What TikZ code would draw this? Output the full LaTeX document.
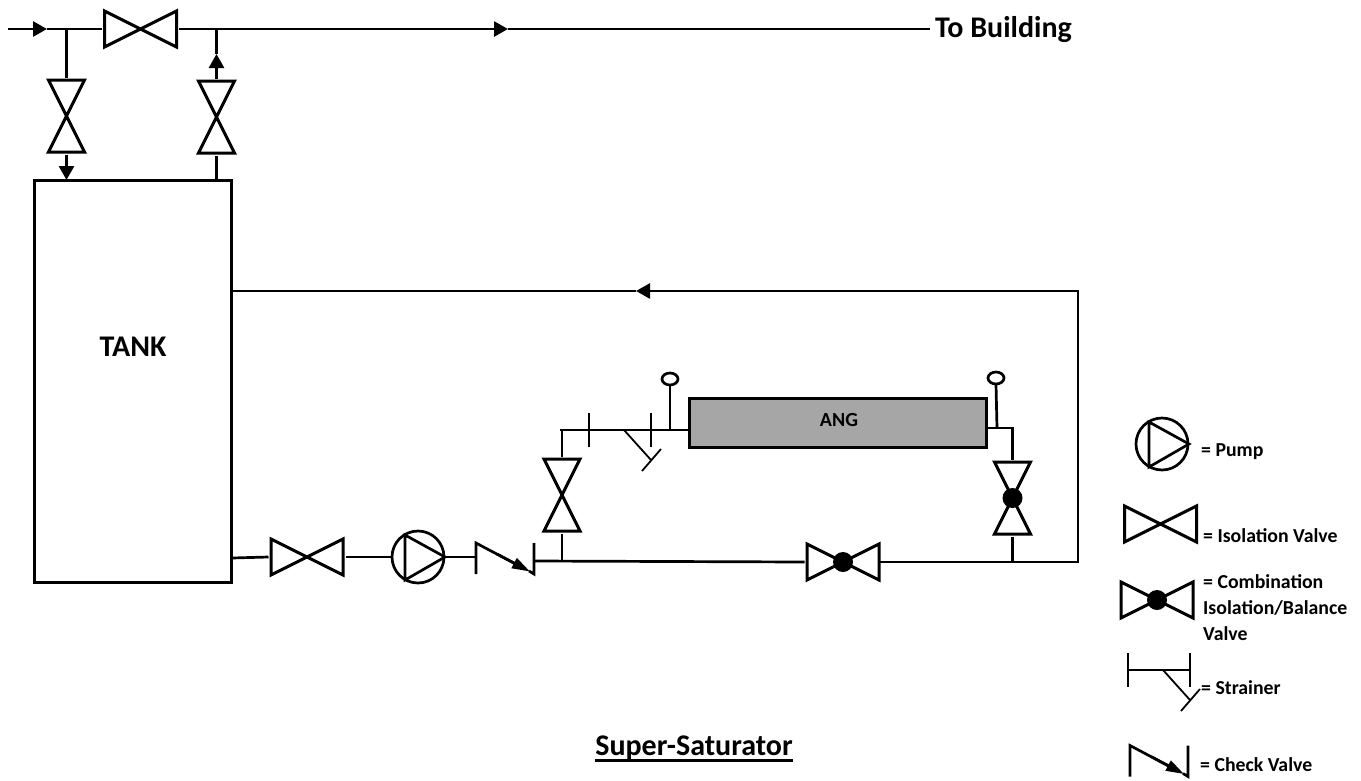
\documentclass[tikz,border=0pt]{standalone}
\usepackage{fontspec}
\setmainfont{Carlito}
\usetikzlibrary{arrows.meta}
\definecolor{anggray}{HTML}{A6A6A6}
\tikzset{
    pipe/.style = {line width=2.7pt},
    flow/.style = {line width=2.7pt, -{Triangle[length=14pt,width=15pt]}},
    thinpipe/.style = {line width=1.8pt},
    symbol/.style = {line width=3pt, line join=miter},
    legend/.style = {anchor=west, align=left, font=\fontsize{19.8}{26}\selectfont\bfseries, inner sep=0pt},
    isovalve/.pic = {
        \draw[symbol] (-36,-18) -- (36,18) -- (36,-18) -- (-36,18) -- cycle;
        \coordinate (-a) at (-38.5,0);
        \coordinate (-b) at (38.5,0);
    },
    combovalve/.pic = {
        \draw[symbol] (-36,-18) -- (36,18) -- (36,-18) -- (-36,18) -- cycle;
        \fill (0,0) circle (10);
        \coordinate (-a) at (-38.5,0);
        \coordinate (-b) at (38.5,0);
    },
    pump/.pic = {
        \draw[pipe] (0,0) circle (26);
        \draw[pipe] (-13,-22) -- (27,0) -- (-13,23) -- cycle;
        \coordinate (-a) at (-27,0);
        \coordinate (-b) at (27,0);
    },
    checkvalve/.pic = {
        \draw[pipe] (-29,16) -- (-29,-15) -- (20,11);
        \draw[line width=2.7pt, -{Triangle[length=18pt,width=11pt]}] (-8,-4) -- (25,13.5);
        \draw[pipe] (24,13) -- (29,16) -- (29,-15);
        \coordinate (-a) at (-29,-1);
        \coordinate (-b) at (29,3);
    },
    strainer/.pic = {
        \draw[thinpipe] (-31,-17) -- (-31,17) (31,-17) -- (31,17) (-31,0) -- (31,0);
        \draw[thinpipe] (4,0) -- (31,30);
        \draw[thinpipe] (22,41) -- (41,19);
        \coordinate (-a) at (-31,0);
        \coordinate (-b) at (31,0);
    },
    gauge/.pic = {
        \draw[pipe] (0,0) ellipse (8 and 6);
        \coordinate (-s) at (0,6);
    }
}

\begin{document}
\begin{tikzpicture}[x=1pt,y=-1pt]
    \useasboundingbox (0,0) rectangle (1361,780);

    % Tank and ANG
    \node[draw, line width=2.4pt, minimum width=197pt, minimum height=402pt, inner sep=0pt] (tank) at (133,381.5) {};
    \node[font=\fontsize{30}{34}\selectfont\bfseries] (tanklabel) at (133,347) {TANK};
    \node[draw, line width=3pt, fill=anggray, minimum width=297pt, minimum height=49pt, inner sep=0pt] (ang) at (837.5,423) {};
    \node[font=\fontsize{20}{24}\selectfont\bfseries] (anglabel) at (839,420) {ANG};

    % Valves
    \pic (topvalve) at (140.5,29) {isovalve};
    \pic[rotate=90] (leftvalve) at (66.5,116) {isovalve};
    \pic[rotate=90] (rightvalve) at (216.5,117) {isovalve};
    \pic (tankvalve) at (307,557) {isovalve};
    \pic (mainpump) at (418,557) {pump};
    \pic (check) at (505,558) {checkvalve};
    \pic[rotate=90] (angvalve) at (562,495) {isovalve};
    \pic (angstrainer) at (620,430) {strainer};
    \pic[rotate=90] (balancev) at (1012.5,498) {combovalve};
    \pic (balanceh) at (843,562) {combovalve};
    \pic (gaugein) at (670,379) {gauge};
    \pic (gaugeout) at (996,378) {gauge};

    % Junctions
    \coordinate (start) at (8,29);
    \coordinate (flow1) at (47,29);
    \coordinate (jleft) at (66.5,29);
    \coordinate (jright) at (216.5,29);
    \coordinate (flow2) at (508,29);
    \coordinate (end) at (930,29);
    \coordinate (tankin) at (66.5,180);
    \coordinate (tankout) at (216.5,180);
    \coordinate (flow3) at (216.5,54);
    \coordinate (ret1) at (232,291);
    \coordinate (flow4) at (636,291);
    \coordinate (ret2) at (1078,291);
    \coordinate (ret3) at (1078,562);
    \coordinate (jbot1) at (562,561);
    \coordinate (jbot2) at (1012.5,562);
    \coordinate (corner1) at (560,430);
    \coordinate (corner2) at (1012.5,428);
    \coordinate (jgauge1) at (670,430);
    \coordinate (jgauge2) at (997,428);

    % Lines
    \draw[flow] (start) -- (flow1);
    \draw[pipe] (flow1) -- (topvalve-a);
    \draw[flow] (topvalve-b) -- (flow2);
    \draw[pipe] (flow2) -- (end);
    \draw[pipe] (jleft) -- (leftvalve-b);
    \draw[flow] (leftvalve-a) -- (tankin);
    \draw[pipe] (tankout) -- (rightvalve-a);
    \draw[flow] (rightvalve-b) -- (flow3);
    \draw[pipe] (flow3) -- (jright);
    \draw[flow] (ret2) -- (flow4);
    \draw[pipe] (flow4) -- (ret1);
    \draw[pipe, line cap=rect] (ret2) -- (ret3) -- (balanceh-b);
    \draw[pipe] (balanceh-a) -- (check-b);
    \draw[pipe] (tankvalve-a) -- (232,558);
    \draw[pipe] (tankvalve-b) -- (mainpump-a);
    \draw[pipe] (mainpump-b) -- (check-a);
    \draw[pipe] (jbot1) -- (angvalve-a);
    \draw[pipe] (angvalve-b) |- (corner1) -- (ang.west |- corner1);
    \draw[pipe] (jbot2) -- (balancev-a);
    \draw[pipe] (balancev-b) -- (corner2) -- (ang.east |- corner2);
    \draw[pipe] (jgauge1) -- (gaugein-s);
    \draw[pipe] (jgauge2) -- (gaugeout-s);

    % Labels
    \node[anchor=base west, inner sep=0pt, font=\fontsize{30}{34}\selectfont\bfseries] (building) at (935,37) {To Building};
    \node[anchor=base, inner sep=0pt, font=\fontsize{30}{36}\selectfont\bfseries] (title) at (694,755) {Super-Saturator};
    \draw[line width=2.4pt] ([yshift=-5.5pt]title.base west) -- ([yshift=-5.5pt]title.base east);

    % Legend
    \pic (legpump) at (1162,444) {pump};
    \node[legend] (legpumptext) at (1201,452) {= Pump};
    \pic (legiso) at (1160.5,524) {isovalve};
    \node[legend] (legisotext) at (1203,535.5) {= Isolation Valve};
    \pic (legcombo) at (1157,600) {combovalve};
    \node[legend] (legcombotext) at (1203,607.5) {= Combination\\Isolation/Balance\\Valve};
    \pic (legstrainer) at (1159,670) {strainer};
    \node[legend] (legstrainertext) at (1201,687.5) {= Strainer};
    \pic (legcheck) at (1159,760.5) {checkvalve};
    \node[legend] (legchecktext) at (1200,764.5) {= Check Valve};

\end{tikzpicture}
\end{document}
